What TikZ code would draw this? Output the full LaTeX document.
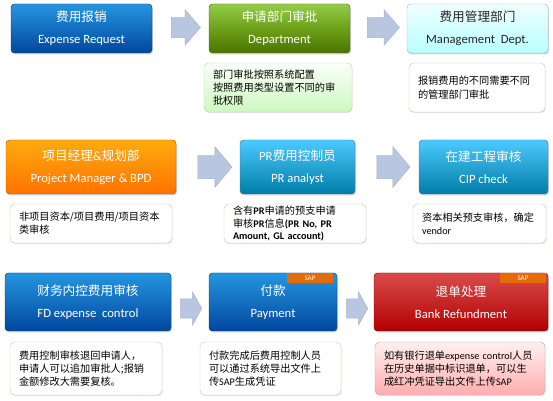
\documentclass[tikz,border=0pt]{standalone}
\usepackage{fontspec}
\setmainfont{Carlito}
\newfontfamily\cjk{Noto Sans CJK SC}
\newfontfamily\lat{Carlito}
\usepackage{xcolor}
\usetikzlibrary{shapes.arrows,shadows}

\definecolor{arrowcol}{HTML}{B8C6E0}
\definecolor{notedraw}{HTML}{C3D69B}
\definecolor{saporange}{HTML}{E36C09}

\begin{document}
\begin{tikzpicture}[
  x=0.03cm, y=-0.03cm,
  wd/.style={minimum width=#1*0.03cm},
  ht/.style={minimum height=#1*0.03cm},
  head/.style={rounded corners=3pt, inner sep=0pt, align=center, text=white, font=\fontsize{10.8}{19}\selectfont, drop shadow={opacity=0.35, shadow xshift=0.8pt, shadow yshift=-1.2pt}},
  bluebox/.style={top color=blue!40!cyan!85!black!85, bottom color=blue!55!cyan!62!black, draw=blue!50!cyan!50!black},
  greenbox/.style={top color=olive!55!green!55!white!95!black, bottom color=olive!70!green!60!black!90, draw=olive!60!green!50!black},
  cyanbox/.style={top color=cyan!6, bottom color=cyan!28, draw=cyan!40!gray!70, text=black!85},
  orangebox/.style={top color=orange!70!yellow!95, bottom color=orange!90!red, draw=orange!70!black},
  tealbox/.style={top color=cyan!70!blue!70!white, bottom color=cyan!75!blue!65!black, draw=cyan!55!black},
  redbox/.style={top color=red!65!white!85!black, bottom color=red!70!black, draw=red!50!black},
  note/.style={draw=notedraw, fill=white, rounded corners=4pt, inner xsep=0.27cm, inner ysep=0pt, align=left, font=\cjk\fontsize{8.7}{11.3}\selectfont, drop shadow={opacity=0.2, shadow xshift=0.6pt, shadow yshift=-0.9pt}},
  nw/.style={text width=(#1-18)*0.03cm},
  flow/.style={single arrow, fill=arrowcol, draw=arrowcol!90!black, inner xsep=0pt, single arrow head indent=0pt},
  sap/.style={fill=saporange, anchor=north east, inner sep=0pt, wd=46, ht=10, text=white, font=\lat\fontsize{6}{6}\selectfont}
]
\useasboundingbox (0,0) rectangle (553,401);

% row 1
\node[head, bluebox, wd=141, ht=49] (expense) at (81.5,28.5) {\cjk 费用报销\\Expense Request};
\node[head, greenbox, wd=141, ht=49] (dept) at (279.5,28.5) {\cjk 申请部门审批\\Department};
\node[head, cyanbox, wd=141, ht=49] (mgmt) at (477.5,28.5) {\cjk 费用管理部门\\Management~ Dept.};
\node[flow, ht=29, inner ysep=0.3cm, single arrow head extend=0.225cm, single arrow tip angle=98] (a11) at (181.5,27.5) {};
\node[flow, ht=32, inner ysep=0.3cm, single arrow head extend=0.225cm, single arrow tip angle=98] (a12) at (379,27.5) {};
\node[note, nw=148, ht=49, top color=green!2!white, bottom color=olive!25!green!22!white] (deptnote) at (278,87.5)
  {部门审批按照系统配置\\按照费用类型设置不同的审\\批权限};
\node[note, nw=136, ht=49] (mgmtnote) at (477,87.5) {报销费用的不同需要不同\\的管理部门审批};

% row 2
\node[head, orangebox, wd=170, ht=54] (pm) at (91,167) {\cjk 项目经理\lat\&\cjk 规划部\\Project Manager \& BPD};
\node[head, tealbox, wd=115, ht=54] (pr) at (297.5,167) {PR\cjk 费用控制员\\PR analyst};
\node[head, tealbox, wd=129, ht=54] (cip) at (483.5,167) {\cjk 在建工程审核\\CIP check};
\node[flow, ht=34, inner ysep=0.345cm, single arrow head extend=0.255cm, single arrow tip angle=100] (a21) at (210,167) {};
\node[flow, ht=33, inner ysep=0.345cm, single arrow head extend=0.255cm, single arrow tip angle=100] (a22) at (388.5,167) {};
\node[note, nw=162, ht=39] (pmnote) at (91,223.5) {非项目资本/项目费用/项目资本\\类审核};
\node[note, nw=142, ht=39, font=\cjk\fontsize{8.7}{10.6}\selectfont] (prnote) at (295,223.5)
  {含有{\lat\bfseries PR}申请的预支申请\\审核{\lat\bfseries PR}信息{\lat\bfseries (PR No, PR}\\{\lat\bfseries Amount, GL account)}};
\node[note, nw=133, ht=39] (cipnote) at (479.5,223.5) {资本相关预支审核，确定\\{\lat vendor}};

% row 3
\node[head, bluebox, wd=166, ht=58] (fd) at (88,302) {\cjk 财务内控费用审核\\FD expense~ control};
\node[head, bluebox, wd=128, ht=58] (pay) at (273,302) {\cjk 付款\\Payment};
\node[head, redbox, wd=174, ht=58] (refund) at (461,302) {\cjk 退单处理\\Bank Refundment};
\node[sap, xshift=-4*0.03cm] (paysap) at (pay.north east) {SAP};
\node[sap, xshift=-2*0.03cm] (refundsap) at (refund.north east) {SAP};
\node[flow, ht=21, inner ysep=0.285cm, single arrow head extend=0.21cm, single arrow tip angle=123] (a31) at (188.5,308.5) {};
\node[flow, ht=21, inner ysep=0.285cm, single arrow head extend=0.21cm, single arrow tip angle=123] (a32) at (354.5,308.5) {};
\node[note, nw=152, ht=53] (fdnote) at (86,368.5) {费用控制审核退回申请人，\\申请人可以追加审批人;报销\\金额修改大需要复核。};
\node[note, nw=141, ht=53] (paynote) at (270.5,368.5) {付款完成后费用控制人员\\可以通过系统导出文件上\\传{\lat SAP}生成凭证};
\node[note, nw=170, ht=53, draw=red!25!gray!60, top color=red!6!white, bottom color=red!32!white] (refundnote) at (460,368.5)
  {如有银行退单{\lat expense control}人员\\在历史单据中标识退单，可以生\\成红冲凭证导出文件上传{\lat SAP}};
\end{tikzpicture}
\end{document}
